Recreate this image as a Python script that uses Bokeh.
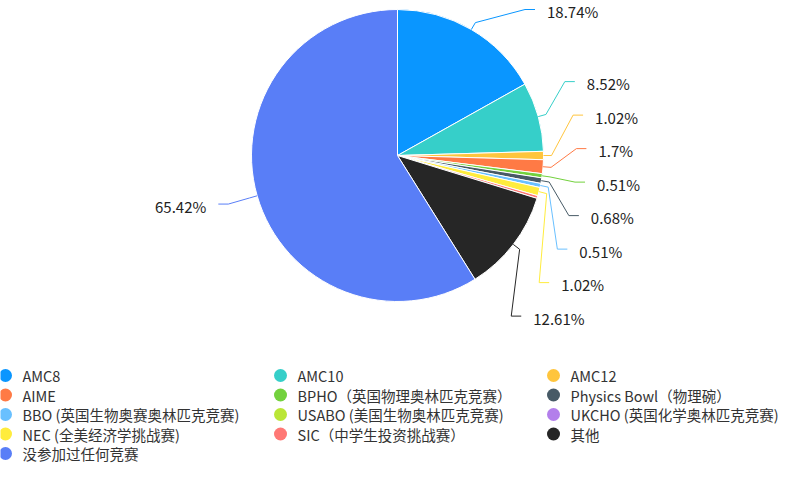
import math
from bokeh.plotting import figure
from bokeh.models import Range1d
from bokeh.embed import file_html
from bokeh.resources import INLINE
from bokeh.core.properties import value

categories = ["AMC8", "AMC10", "AMC12", "AIME", "BPHO（英国物理奥林匹克竞赛）",
              "Physics Bowl（物理碗）", "BBO (英国生物奥赛奥林匹克竞赛)",
              "USABO (美国生物奥林匹克竞赛)", "UKCHO (英国化学奥林匹克竞赛)",
              "NEC (全美经济学挑战赛)", "SIC（中学生投资挑战赛）", "其他", "没参加过任何竞赛"]
values = [18.74, 8.52, 1.02, 1.7, 0.51, 0.68, 0.51, 0.0, 0.0, 1.02, 0.34, 12.61, 65.42]
colors = ["#0A96FF", "#36CFC9", "#FFC53D", "#FF7A45", "#73D13D", "#475A66", "#69C0FF",
          "#BAE637", "#B37FEB", "#FFEC3D", "#FF7875", "#262626", "#597EF7"]

W, H = 787, 463
FONT = "Noto Sans CJK SC"
cx, cy = 397, 155      # pie centre (y measured downwards)
r = 146
R1 = r + 33            # turn radius of label lines
rB = r + 62
min_gap = 33.5

p = figure(width=W, height=H, x_range=Range1d(0, W), y_range=Range1d(0, H),
           output_backend="svg", toolbar_location=None, min_border=0)
p.axis.visible = False
p.grid.visible = False
p.outline_line_color = None
p.background_fill_color = "white"

def up(y):
    return H - y

total = sum(values)
start = 0.0
wx, wy, ws, we, wc = [], [], [], [], []
labels = []
for cat, v, c in zip(categories, values, colors):
    span = v / total * 360.0
    if span > 0:
        a0 = math.radians(90 - (start + span))
        a1 = math.radians(90 - start)
        wx.append(cx); wy.append(up(cy)); ws.append(a0); we.append(a1); wc.append(c)
    mid = math.radians(90 - (start + span / 2))
    if v >= 0.5:
        labels.append(dict(v=v, c=c, a=mid, side=1 if math.cos(mid) >= 0 else -1,
                           ynat=cy - (r + 30) * math.sin(mid)))
    start += span

p.wedge(x=wx, y=wy, radius=r, start_angle=ws, end_angle=we, direction="anticlock",
        fill_color=wc, line_color="white", line_width=1)

# label overlap relaxation per side (slightly biased downward)
for side in (1, -1):
    items = sorted([l for l in labels if l["side"] == side], key=lambda l: l["ynat"])
    ys = [l["ynat"] for l in items]
    for _ in range(800):
        for i in range(len(ys) - 1):
            d = ys[i + 1] - ys[i]
            if d < min_gap:
                push = (min_gap - d)
                ys[i] -= push * 0.45
                ys[i + 1] += push * 0.55
        ys = [max(y, 9) for y in ys]
    for l, y in zip(items, ys):
        l["y"] = y

lxs, lys, lcs = [], [], []
tr = dict(x=[], y=[], t=[])
tl = dict(x=[], y=[], t=[])
for l in labels:
    a, s = l["a"], l["side"]
    ex, ey = cx + r * math.cos(a), cy - r * math.sin(a)
    bx, by = cx + (r + 8) * math.cos(a), cy - (r + 8) * math.sin(a)
    if abs(l["y"] - l["ynat"]) < 0.5:
        kx = cx + (r + 30) * math.cos(a)
    else:
        dy = l["y"] - cy
        kx = cx + s * R1 * math.sqrt(max(0.0, 1 - (dy / rB) ** 2))
    ky = l["y"]
    lxs.append([ex, bx, kx, kx + s * 10])
    lys.append([up(ey), up(by), up(ky), up(ky)])
    lcs.append(l["c"])
    d = tr if s > 0 else tl
    d["x"].append(kx + s * 22); d["y"].append(up(ky + 2))
    d["t"].append(f"{l['v']:g}%")

p.multi_line(xs=lxs, ys=lys, line_color=lcs, line_width=1)
p.text(x=tr["x"], y=tr["y"], text=tr["t"], text_align="left", text_baseline="middle",
       text_font=value(FONT), text_font_size="15px", text_color="#222222")
p.text(x=tl["x"], y=tl["y"], text=tl["t"], text_align="right", text_baseline="middle",
       text_font=value(FONT), text_font_size="15px", text_color="#222222")

# legend (3 columns, row-wise)
col_x = [5, 280, 553]
row_y0, row_dy = 375, 19.5
mx, my, mc, txs, tys = [], [], [], [], []
for i, (cat, c) in enumerate(zip(categories, colors)):
    col, row = i % 3, i // 3
    mx.append(col_x[col]); my.append(up(row_y0 + row * row_dy)); mc.append(c)
    txs.append(col_x[col] + 17); tys.append(up(row_y0 + row * row_dy))
p.scatter(x=mx, y=my, size=13, marker="circle", fill_color=mc, line_color=None)
p.text(x=txs, y=tys, text=categories, text_align="left", text_baseline="middle",
       text_font=value(FONT), text_font_size="14.5px", text_color="#333333")

open("out.html", "w").write(file_html(p, INLINE))
